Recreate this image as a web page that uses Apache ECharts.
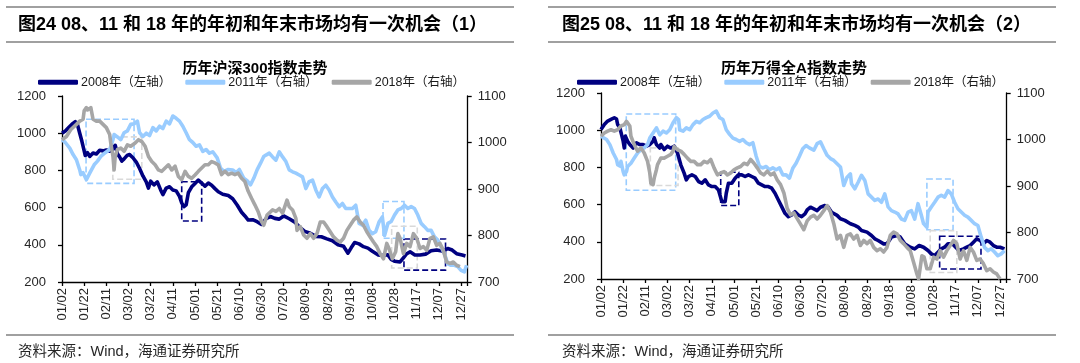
<!DOCTYPE html>
<html><head><meta charset="utf-8">
<script src="https://cdn.jsdelivr.net/npm/echarts@6/dist/echarts.min.js"></script>
<style>html,body{margin:0;padding:0;background:#fff}#c{width:1080px;height:363px}</style>
</head><body><div id="c"></div>
<script>
// ---------- texts ----------
const seriesNames = ['2008年（左轴）', '2011年（右轴）', '2018年（右轴）'];
const panelTitles = ['图24 08、11 和 18 年的年初和年末市场均有一次机会（1）', '图25 08、11 和 18 年的年初和年末市场均有一次机会（2）'];
const panelSubtitles = ['历年沪深300指数走势', '历年万得全A指数走势'];
const sourceText = '资料来源：Wind，海通证券研究所';
const xTickLabels = ['01/02','01/22','02/11','03/02','03/22','04/11','05/01','05/21','06/10','06/30','07/20','08/09','08/29','09/18','10/08','10/28','11/17','12/07','12/27'];
const leftTicks = [200, 1200, 200];   // min, max, interval
const rightTicks = [700, 1100, 100];

// ---------- data: [day offset from 01/02, index value] ----------
// 沪深300
const hs2008 = [[0,1000],[3,1012],[6,1030],[9,1048],[12,1062],[14,1045],[16,1000],[18,955],[20,905],[21,880],[23,895],[25,875],[28,893],[31,888],[34,908],[37,905],[40,910],[43,903],[46,915],[48,935],[50,890],[52,872],[54,850],[56,862],[59,882],[61,885],[64,868],[67,845],[70,810],[73,770],[76,738],[78,705],[80,742],[83,722],[86,738],[89,695],[91,670],[94,705],[97,712],[100,695],[103,690],[106,660],[108,625],[110,605],[112,615],[114,680],[117,712],[120,730],[123,748],[126,732],[129,715],[132,732],[135,720],[138,702],[141,685],[145,672],[150,665],[154,648],[158,614],[162,575],[165,555],[168,533],[172,535],[176,524],[180,510],[184,540],[188,552],[192,542],[196,538],[200,555],[205,540],[210,522],[214,497],[219,472],[224,462],[229,445],[234,443],[239,432],[244,422],[249,400],[254,392],[258,355],[261,385],[264,412],[268,405],[272,390],[276,382],[280,365],[285,346],[290,342],[294,346],[297,322],[300,312],[305,308],[308,330],[311,352],[314,362],[318,346],[323,345],[328,350],[333,368],[338,372],[344,365],[348,380],[352,372],[356,352],[361,345],[364,340]];
const hs2011 = [[0,1006],[3,1000],[7,988],[10,974],[13,963],[16,941],[17,931],[19,935],[22,920],[25,934],[29,952],[32,960],[35,970],[39,978],[43,985],[46,1006],[47,1017],[50,1012],[53,1006],[56,1021],[59,1025],[62,1039],[65,1040],[68,1046],[70,1021],[73,1013],[76,1020],[79,1015],[82,1032],[85,1025],[88,1035],[91,1030],[94,1046],[97,1040],[100,1057],[103,1052],[106,1046],[109,1035],[112,1021],[115,1006],[118,1000],[121,992],[124,995],[127,981],[130,985],[133,977],[136,980],[140,967],[143,945],[146,938],[150,942],[154,941],[157,935],[160,942],[164,923],[167,918],[170,909],[173,923],[176,941],[179,955],[182,970],[184,973],[187,977],[190,969],[193,962],[196,980],[199,969],[202,959],[205,941],[208,937],[211,934],[214,930],[217,926],[220,901],[223,916],[226,919],[229,898],[232,883],[235,901],[238,908],[241,898],[244,883],[247,872],[250,862],[253,869],[256,858],[259,858],[262,858],[265,865],[268,826],[271,822],[274,833],[277,811],[280,804],[283,808],[286,829],[289,840],[291,800],[294,826],[297,830],[300,844],[303,855],[306,858],[309,865],[312,858],[315,862],[318,858],[321,844],[324,826],[327,819],[330,811],[333,811],[336,797],[339,790],[342,776],[345,761],[348,739],[351,736],[354,736],[357,733],[360,725],[363,722],[365,736]];
const hs2018 = [[0,1006],[4,1013],[8,1028],[13,1039],[16,1046],[19,1050],[20,1068],[22,1075],[23,1070],[26,1075],[28,1050],[31,1046],[34,1046],[37,1039],[40,1032],[43,1017],[44,999],[46,970],[47,941],[48,970],[50,985],[53,988],[56,981],[59,995],[62,992],[66,999],[69,1006],[72,1002],[75,992],[78,970],[81,959],[84,952],[87,941],[90,938],[93,945],[96,952],[99,941],[102,949],[105,927],[108,920],[111,938],[114,927],[117,923],[120,930],[123,938],[126,945],[129,952],[132,952],[135,959],[138,956],[141,952],[144,931],[147,938],[150,931],[153,934],[156,931],[159,934],[162,923],[165,916],[168,895],[171,880],[174,866],[177,851],[180,830],[182,822],[185,844],[190,855],[193,852],[196,858],[199,848],[202,869],[203,876],[205,862],[208,855],[211,837],[212,811],[215,819],[218,801],[221,794],[224,804],[227,794],[230,804],[233,829],[236,829],[239,819],[242,808],[245,797],[248,790],[251,786],[254,794],[257,811],[260,822],[263,833],[266,840],[269,829],[272,822],[275,808],[278,797],[281,786],[284,776],[287,761],[290,750],[293,783],[295,772],[298,750],[301,765],[303,804],[305,794],[308,761],[311,783],[314,776],[317,804],[320,794],[323,772],[326,776],[329,768],[332,794],[335,797],[338,779],[341,783],[344,768],[347,743],[350,740],[353,743],[356,736],[359,733]];
// 万得全A
const wa2008 = [[0,1004],[3,1031],[6,1049],[9,1058],[12,1067],[14,1060],[15,1031],[17,1013],[18,1004],[20,941],[21,904],[22,968],[24,941],[26,923],[29,904],[32,932],[35,923],[38,923],[41,914],[44,923],[47,941],[48,959],[50,923],[53,904],[54,923],[57,896],[60,914],[63,904],[66,914],[69,877],[72,814],[75,769],[77,733],[79,751],[82,760],[85,751],[88,724],[91,715],[94,733],[97,706],[100,697],[103,697],[106,679],[109,616],[112,616],[113,661],[115,715],[118,715],[121,742],[124,760],[127,760],[130,751],[133,760],[136,751],[139,742],[142,715],[145,706],[148,697],[151,697],[154,688],[157,661],[160,625],[163,589],[166,553],[169,535],[172,544],[175,562],[178,544],[181,535],[184,550],[186,571],[189,586],[192,577],[195,568],[198,586],[202,595],[205,586],[208,559],[213,542],[216,524],[220,515],[225,497],[229,488],[232,479],[235,461],[240,452],[244,434],[247,416],[250,407],[255,389],[258,389],[262,425],[267,434],[270,425],[274,389],[279,371],[283,362],[287,380],[291,371],[295,353],[298,335],[301,326],[304,344],[307,362],[310,371],[313,389],[317,389],[320,371],[323,353],[327,362],[330,371],[333,380],[336,398],[339,416],[342,407],[345,389],[348,407],[351,398],[354,380],[357,371],[360,371],[364,362]];
const wa2011 = [[0,1007],[5,1000],[8,989],[11,971],[14,957],[15,946],[17,943],[18,953],[20,931],[21,924],[23,931],[24,942],[27,949],[30,960],[33,971],[36,978],[39,982],[42,989],[44,1003],[47,1014],[50,1025],[53,1010],[56,1018],[59,1014],[62,1021],[65,1036],[68,1047],[70,1043],[71,1021],[74,1018],[77,1025],[80,1021],[83,1032],[86,1039],[89,1036],[92,1043],[95,1047],[98,1050],[101,1057],[104,1061],[107,1047],[110,1043],[113,1021],[116,1011],[119,1003],[122,1000],[125,996],[128,1000],[131,993],[134,989],[137,993],[140,964],[143,942],[146,939],[149,942],[152,935],[155,939],[158,935],[161,939],[164,924],[167,924],[170,917],[173,938],[176,949],[179,964],[182,980],[185,987],[188,982],[192,977],[195,991],[198,995],[201,980],[204,966],[207,959],[210,955],[213,948],[216,941],[219,901],[222,919],[225,926],[226,905],[229,894],[232,908],[235,923],[238,912],[241,883],[244,876],[247,869],[250,872],[253,865],[256,883],[259,855],[262,847],[265,844],[268,840],[271,829],[274,826],[277,844],[280,847],[283,829],[286,862],[289,837],[291,819],[294,811],[295,844],[298,855],[301,865],[304,876],[307,880],[310,876],[313,890],[316,883],[319,865],[322,851],[325,844],[328,837],[331,833],[334,826],[337,819],[340,815],[343,790],[346,768],[349,761],[352,765],[355,758],[358,750],[361,754],[364,761]];
const wa2018 = [[0,1007],[3,1014],[6,1018],[9,1021],[12,1018],[15,1021],[18,1029],[21,1032],[23,1039],[26,1029],[27,1007],[30,989],[33,975],[36,982],[39,971],[42,953],[44,928],[45,906],[47,903],[48,917],[50,935],[51,946],[54,960],[57,960],[60,964],[63,968],[65,975],[66,985],[69,978],[72,975],[75,968],[78,960],[81,953],[84,953],[87,946],[90,946],[93,953],[96,950],[99,957],[102,939],[105,924],[108,928],[111,931],[114,924],[117,928],[120,935],[123,939],[126,942],[129,949],[132,946],[135,957],[138,949],[141,939],[144,928],[147,924],[150,932],[153,924],[156,928],[159,913],[162,903],[165,885],[168,852],[171,838],[174,842],[177,830],[180,818],[183,806],[186,825],[189,833],[192,837],[195,829],[198,837],[201,847],[204,858],[207,844],[210,819],[213,786],[216,794],[219,768],[222,794],[225,797],[228,786],[231,794],[234,772],[237,783],[240,776],[243,783],[246,768],[249,761],[252,765],[255,758],[258,768],[261,794],[264,801],[267,797],[270,783],[273,776],[276,768],[279,761],[282,736],[285,711],[286.5,700],[288,725],[289.5,750],[291.5,747],[294,722],[297,722],[300,747],[303,743],[306,761],[309,747],[312,761],[315,772],[318,783],[321,776],[324,743],[327,761],[330,740],[333,768],[336,758],[339,740],[342,743],[345,733],[348,718],[351,722],[354,715],[357,711],[360,700]];

// ---------- annotation boxes: [day from, value top, day to, value bottom] ----------
const hsBox2008 = [[108, 739, 126, 528], [308.5, 431, 346, 264]];
const hsBox2011 = [[21.7, 1050, 65, 912], [289.6, 873, 308.5, 794]];
const hsBox2018 = [[45.8, 1012, 72, 921], [297.4, 820, 320.5, 730]];
const waBox2008 = [[108, 774, 124.3, 595], [305.5, 430, 342.8, 254]];
const waBox2011 = [[22.8, 1055, 67.4, 891], [294, 915, 317.6, 806]];
const waBox2018 = [[44.5, 982, 69.5, 901], [297, 804, 321, 714]];

const colors = ['#000080', '#99CCFF', '#A6A6A6'];
const boxColors = ['#000080', '#99CCFF', '#D9D9D9'];
const FONT = '"Liberation Sans", Arial, "Noto Sans CJK SC", sans-serif';

const panels = [
  {left: 62, top: 96, data: [hs2008, hs2011, hs2018], boxes: [hsBox2008, hsBox2011, hsBox2018]},
  {left: 601, top: 93, data: [wa2008, wa2011, wa2018], boxes: [waBox2008, waBox2011, waBox2018]}
];
const gridW = 405.7, gridH = 186;

function markBoxes(list, color) {
  return {
    silent: true,
    itemStyle: {color: 'rgba(0,0,0,0)', borderColor: color, borderWidth: 1.6, borderType: [6, 3]},
    label: {show: false},
    data: list.map(b => [{coord: [b[0], b[1]]}, {coord: [b[2], b[3]]}])
  };
}

const grid = [], xAxis = [], yAxis = [], series = [], legend = [], graphic = [];
panels.forEach((p, i) => {
  grid.push({left: p.left, top: p.top, width: gridW, height: gridH});
  xAxis.push({
    type: 'value', gridIndex: i, min: 0, max: 366, interval: 20,
    splitLine: {show: false},
    axisLine: {lineStyle: {color: '#000', width: 1.3}},
    axisTick: {length: 4, lineStyle: {color: '#000', width: 1.3}},
    axisLabel: {
      rotate: 90, margin: 6, fontSize: 13, color: '#262626', fontFamily: FONT,
      formatter: v => (v % 20 === 0 && xTickLabels[v / 20]) ? xTickLabels[v / 20] : ''
    }
  });
  yAxis.push({
    type: 'value', gridIndex: i, position: 'left', min: leftTicks[0], max: leftTicks[1], interval: leftTicks[2],
    splitLine: {show: false},
    axisLine: {show: true, lineStyle: {color: '#000', width: 1.3}},
    axisTick: {show: true, length: 4, lineStyle: {color: '#000', width: 1.3}},
    axisLabel: {margin: 16, fontSize: 13, color: '#262626', fontFamily: FONT, formatter: v => String(v)}
  });
  yAxis.push({
    type: 'value', gridIndex: i, position: 'right', min: rightTicks[0], max: rightTicks[1], interval: rightTicks[2],
    splitLine: {show: false},
    axisLine: {show: true, lineStyle: {color: '#000', width: 1.3}},
    axisTick: {show: true, length: 4, lineStyle: {color: '#000', width: 1.3}},
    axisLabel: {margin: 10, fontSize: 13, color: '#262626', fontFamily: FONT, formatter: v => String(v)}
  });
  p.data.forEach((d, k) => {
    series.push({
      name: seriesNames[k], type: 'line', xAxisIndex: i, yAxisIndex: i * 2 + (k === 0 ? 0 : 1),
      data: d, symbol: 'none', smooth: false, animation: false,
      lineStyle: {color: colors[k], width: 3.6, join: 'round'},
      itemStyle: {color: colors[k]},
      z: 2 + k,
      markArea: markBoxes(p.boxes[k], boxColors[k])
    });
  });
  legend.push({
    left: i === 0 ? 38 : 577, top: 76, padding: 0, itemGap: 14, itemWidth: 40, itemHeight: 5,
    icon: 'roundRect', data: seriesNames.slice(),
    textStyle: {fontSize: 12.5, color: '#1a1a1a', fontFamily: FONT, padding: [0, 0, 0, -2]},
    selectedMode: false
  });
  const x0 = i === 0 ? 6 : 548, x1 = i === 0 ? 514 : 1056;
  [7, 42, 335].forEach(y => graphic.push({type: 'line', silent: true, shape: {x1: x0, y1: y, x2: x1, y2: y}, style: {stroke: '#808080', lineWidth: 1.5}}));
  graphic.push({type: 'text', x: i === 0 ? 18 : 562, y: 25, silent: true,
    style: {text: panelTitles[i], fill: '#000', font: 'bold 18px ' + FONT, align: 'left', verticalAlign: 'middle', textAlign: 'left', textVerticalAlign: 'middle'}});
  graphic.push({type: 'text', x: i === 0 ? 255 : 794, y: 69, silent: true,
    style: {text: panelSubtitles[i], fill: '#000', font: 'bold 15px ' + FONT, align: 'center', verticalAlign: 'middle', textAlign: 'center', textVerticalAlign: 'middle'}});
  graphic.push({type: 'text', x: i === 0 ? 18 : 562, y: 352, silent: true,
    style: {text: sourceText, fill: '#262626', font: '14.5px ' + FONT, align: 'left', verticalAlign: 'middle', textAlign: 'left', textVerticalAlign: 'middle'}});
});

const chart = echarts.init(document.getElementById('c'), null, {renderer: 'canvas'});
chart.setOption({animation: false, backgroundColor: '#fff', grid, xAxis, yAxis, series, legend, graphic});
</script>
</body></html>
